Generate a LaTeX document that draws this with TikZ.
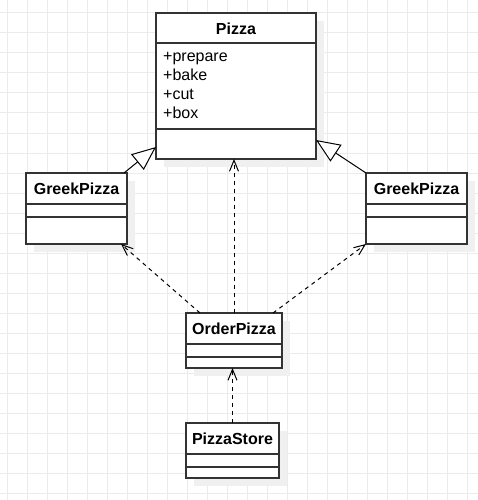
\documentclass[tikz,border=0pt]{standalone}
\usepackage{fontspec}
\setmainfont{Liberation Sans}
\usetikzlibrary{positioning, arrows.meta, shadows}

\begin{document}
\begin{tikzpicture}
% Style
[
    x=1pt, y=-1pt, line join=miter,
    font=\fontsize{16}{19}\selectfont,
    gridline/.style={draw=black!8, line width=1pt},
    cls/.style 2 args={
        draw=black!80, fill=white, line width=1.3pt, shape=rectangle,
        anchor=north west, inner sep=0pt, outer sep=0pt,
        minimum width=#1, minimum height=#2,
        drop shadow={shadow xshift=8pt, shadow yshift=-8pt, fill=black!6, opacity=1}
    },
    divider/.style={draw=black!80, line width=1.3pt},
    clstitle/.style={font=\fontsize{16}{19}\selectfont\bfseries, inner sep=0pt},
    members/.style={align=left, anchor=west, inner sep=0pt},
    inherit/.style={draw=black, line width=1pt, -{Triangle[open, length=24pt, width=20pt, fill=white]}},
    depend/.style={draw=black, line width=1pt, dash pattern=on 4pt off 4pt, -{Straight Barb[length=11pt, width=9pt]}}
]

%=================================== Start ===================================
{
    \useasboundingbox (0,0) rectangle (478,500);
    \fill[white] (0,0) rectangle (478,500);
    \foreach \gx in {7,27,...,467} { \draw[gridline] (\gx,0) -- (\gx,500); }
    \foreach \gy in {13,33,...,493} { \draw[gridline] (0,\gy) -- (478,\gy); }

    \node[cls={160pt}{146pt}] (cls-pizza)   at (156,13)  {};
    \node[cls={101pt}{71pt}]  (cls-greek-l) at (26,173)  {};
    \node[cls={101pt}{71pt}]  (cls-greek-r) at (366,173) {};
    \node[cls={96pt}{55pt}]   (cls-order)   at (186,313) {};
    \node[cls={93pt}{55pt}]   (cls-store)   at (186,423) {};

    \foreach \c/\t in {pizza/Pizza, greek-l/GreekPizza, greek-r/GreekPizza, order/OrderPizza, store/PizzaStore} {
        \node[clstitle] (\c-t) at ([yshift=-15.5]cls-\c.north) {\t};
    }
    \foreach \c/\off in {pizza/30, pizza/116, greek-l/31, greek-l/44, greek-r/31, greek-r/44, order/31, order/44, store/31, store/44} {
        \draw[divider] ([yshift=-\off]cls-\c.north west) -- ([yshift=-\off]cls-\c.north east);
    }
    \node[members] (pizza-m) at ([shift={(7pt,-72pt)}]cls-pizza.north west) {+prepare\\+bake\\+cut\\+box};

    \draw[inherit] ([xshift=-3]cls-greek-l.north east) -- ([yshift=12]cls-pizza.south west);
    \draw[inherit] (cls-greek-r.north west) -- ([yshift=19]cls-pizza.south east);

    \draw[depend] ([xshift=14]cls-order.north west) -- ([xshift=-6]cls-greek-l.south east);
    \draw[depend] (cls-order.north) -- (cls-order.north |- cls-pizza.south);
    \draw[depend] ([xshift=-9]cls-order.north east) -- (cls-greek-r.south west);
    \draw[depend] (cls-store.north) -- (cls-store.north |- cls-order.south);
}
%==================================== END ====================================

\end{tikzpicture}
\end{document}
